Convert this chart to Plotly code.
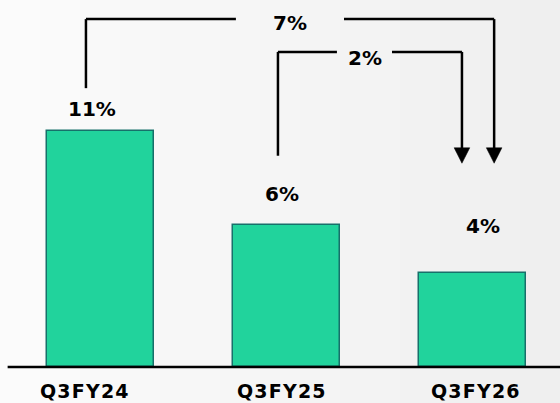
import plotly.graph_objects as go

categories = ["Q3FY24", "Q3FY25", "Q3FY26"]
bar_heights = [11.0, 6.6, 4.4]
value_labels = ["11%", "6%", "4%"]
change_labels = ["7%", "2%"]

FONT = "DejaVu Sans, Verdana, sans-serif"
BAR_FILL = "#21D39C"
BAR_LINE = "#17706A"

fig = go.Figure()
fig.add_trace(go.Bar(
    x=list(range(len(categories))), y=bar_heights, width=0.575,
    marker=dict(color=BAR_FILL, line=dict(color=BAR_LINE, width=1.5)),
    hoverinfo="skip", showlegend=False,
))

shapes = []
# background gradient stripes
n = 28
c0, c1 = 251, 239
for i in range(n):
    c = round(c0 + (c1 - c0) * i / (n - 1))
    shapes.append(dict(type="rect", xref="paper", yref="paper",
                       x0=i / n, x1=(i + 1) / n + 0.002, y0=-0.2, y1=1.05,
                       fillcolor=f"rgb({c},{c},{c})", line=dict(width=0), layer="below"))
# baseline
shapes.append(dict(type="line", xref="x", yref="y", x0=-0.5, x1=2.6, y0=0, y1=0,
                   line=dict(color="black", width=2.5)))

LW = 2.5
def seg(x0, y0, x1, y1):
    shapes.append(dict(type="line", xref="x", yref="y", x0=x0, y0=y0, x1=x1, y1=y1,
                       line=dict(color="black", width=LW)))

def arrowhead(x, ytip):
    shapes.append(dict(type="path", xref="x", yref="y",
                       path=f"M {x-0.042},{ytip+0.72} L {x+0.042},{ytip+0.72} L {x},{ytip} Z",
                       fillcolor="black", line=dict(color="black", width=0.5)))

# connector A: Q3FY24 -> Q3FY26
ya_top, ya_bot, tip = 16.22, 13.0, 9.5
xa_l, xa_g0, xa_g1, xa_r = -0.079, 0.727, 1.308, 2.115
seg(xa_l, ya_bot, xa_l, ya_top)
seg(xa_l, ya_top, xa_g0, ya_top)
seg(xa_g1, ya_top, xa_r, ya_top)
seg(xa_r, ya_top, xa_r, tip + 0.6)
arrowhead(xa_r, tip)

# connector B: Q3FY25 -> Q3FY26
yb_top, yb_bot = 14.69, 9.85
xb_l, xb_g0, xb_g1, xb_r = 0.953, 1.270, 1.566, 1.942
seg(xb_l, yb_bot, xb_l, yb_top)
seg(xb_l, yb_top, xb_g0, yb_top)
seg(xb_g1, yb_top, xb_r, yb_top)
seg(xb_r, yb_top, xb_r, tip + 0.6)
arrowhead(xb_r, tip)

annotations = []
value_offsets = [(-9, 22), (-5, 31), (10, 47)]
for i, (lab, (dx, dy)) in enumerate(zip(value_labels, value_offsets)):
    annotations.append(dict(x=i, y=bar_heights[i], text=f"<b>{lab}</b>", showarrow=False,
                            xshift=dx, yshift=dy, font=dict(family=FONT, size=20, color="black")))
cat_offsets = [-16, -5, 3]
for i, (cat, dx) in enumerate(zip(categories, cat_offsets)):
    annotations.append(dict(x=i, y=0, text=f"<span style='letter-spacing:1.2px'><b>{cat}</b></span>",
                            showarrow=False, xshift=dx, yshift=-23.5,
                            font=dict(family=FONT, size=19, color="black")))
annotations.append(dict(x=(xa_g0 + xa_g1) / 2, y=ya_top, text=f"<b>{change_labels[0]}</b>",
                        showarrow=False, yshift=-4, font=dict(family=FONT, size=20, color="black")))
annotations.append(dict(x=(xb_g0 + xb_g1) / 2 + 0.005, y=yb_top, text=f"<b>{change_labels[1]}</b>",
                        showarrow=False, yshift=-6, font=dict(family=FONT, size=20, color="black")))

fig.update_layout(
    width=560, height=403,
    margin=dict(l=0, r=0, t=0, b=0),
    paper_bgcolor="#f5f5f5", plot_bgcolor="rgba(0,0,0,0)",
    xaxis=dict(range=[-0.541, 2.469], visible=False, fixedrange=True),
    yaxis=dict(range=[-1.678, 17.11], visible=False, fixedrange=True),
    shapes=shapes, annotations=annotations,
    bargap=0,
)
fig.write_html("out.html", config={"displayModeBar": False},
               post_script="document.body.style.margin='0';document.body.style.padding='0';document.body.style.overflow='hidden';")
